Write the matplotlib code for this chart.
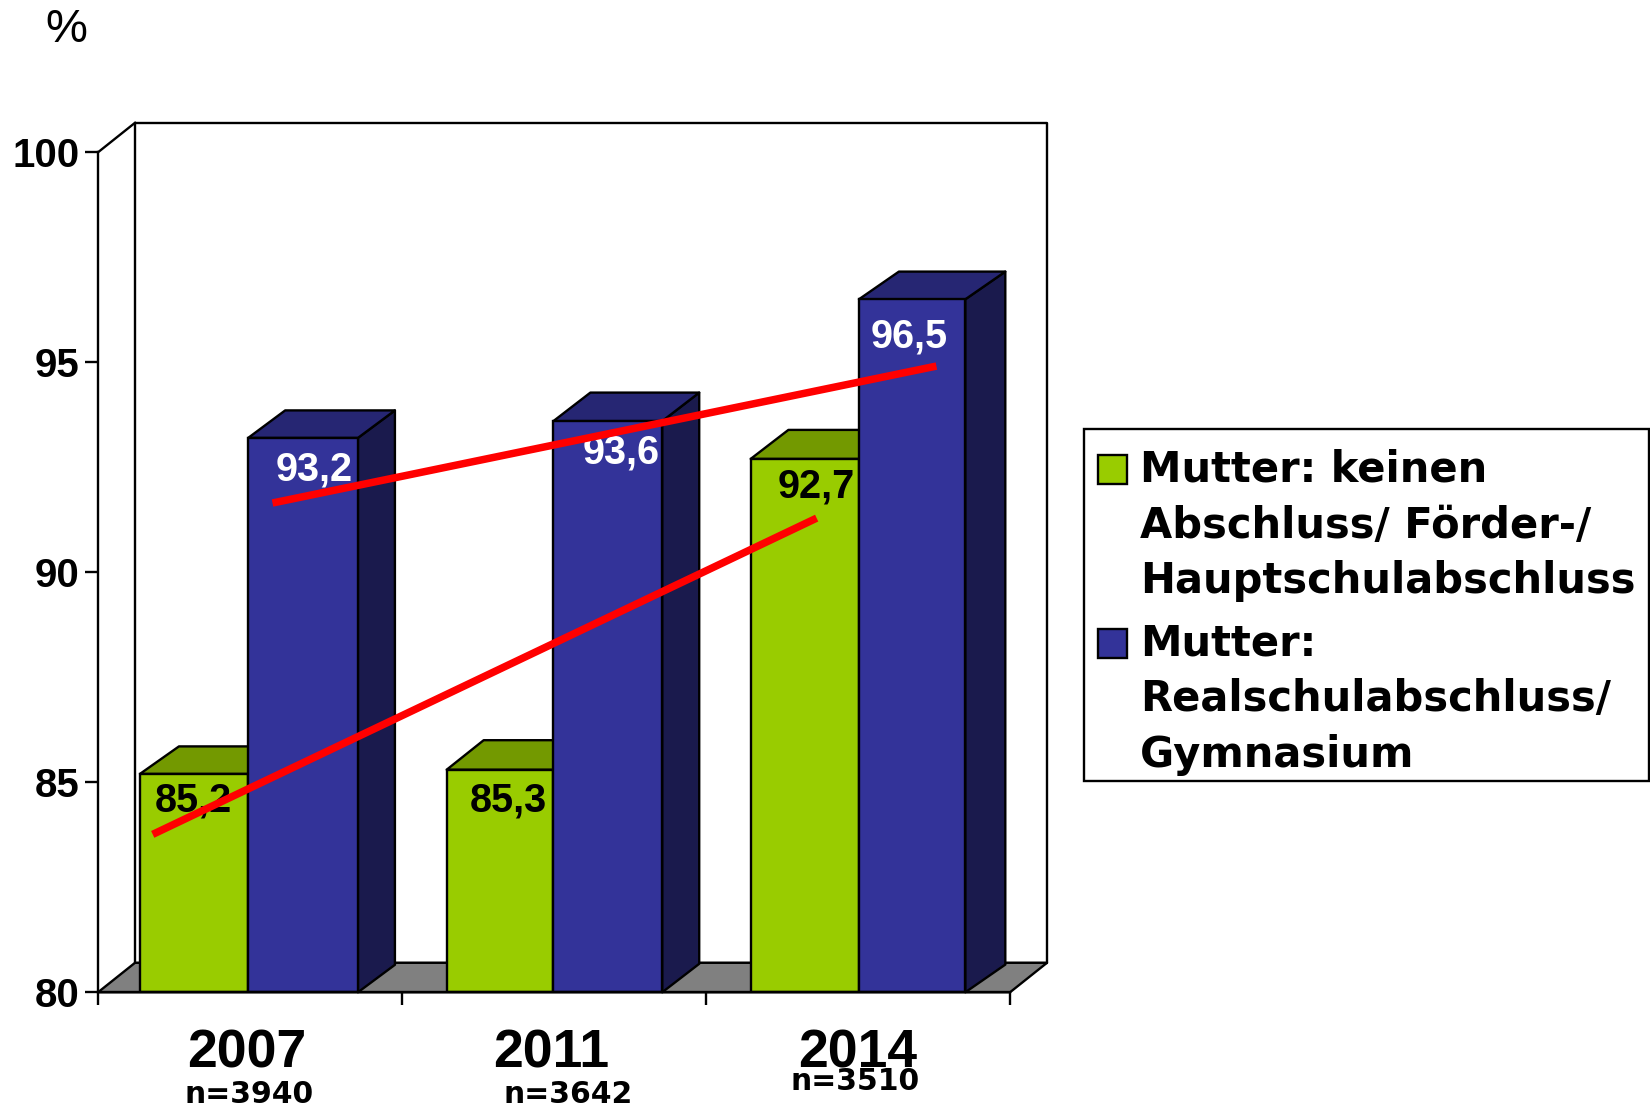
import matplotlib
matplotlib.use("Agg")
import matplotlib.pyplot as plt
from matplotlib.patches import Polygon, Patch, Rectangle
from matplotlib.legend_handler import HandlerPatch

years = ["2007", "2011", "2014"]
sample_sizes = ["n=3940", "n=3642", "n=3510"]
value_labels_green = ["85,2", "85,3", "92,7"]
value_labels_blue = ["93,2", "93,6", "96,5"]
green_values = [85.2, 85.3, 92.7]
blue_values = [93.2, 93.6, 96.5]
yticks = [80, 85, 90, 95, 100]

# red hand drawn lines
green_line_x = [0.18, 2.364]
green_line_y = [83.76, 91.29]
blue_line_x = [0.574, 2.758]
blue_line_y = [91.65, 94.91]

legend_green = "Mutter: keinen\nAbschluss/ Förder-/\nHauptschulabschluss"
legend_blue = "Mutter:\nRealschulabschluss/\nGymnasium"

GREEN = "#99CC00"
GREEN_TOP = "#739900"
BLUE = "#333399"
BLUE_TOP = "#262673"
BLUE_SIDE = "#1A1A4D"
GREY = "#808080"
LW = 1.7

plt.rcParams["font.family"] = ["Liberation Sans", "DejaVu Sans"]

W, H = 1650, 1109
fig = plt.figure(figsize=(W / 100, H / 100), dpi=100)
# plot box: x from 98 to 1010 px, y=80 at 992 px, y=100 at 152 px
PX_X = 304
PX_Y = 42
ax = fig.add_axes([98 / W, (H - 992.3) / H, 912 / W, 840 / H])
ax.set_xlim(0, 3)
ax.set_ylim(80, 100)

# depth of the fake 3d, in data units
DX = 37 / PX_X
DY = 29.5 / PX_Y
# the bars in the original are not quite regular
bar_left = [0.138, 1.147, 2.147]
bar_mid = [0.494, 1.498, 2.503]
bar_right = [0.855, 1.856, 2.853]
green_depth = [(39, 27.5), (37, 29.5), (37.7, 29)]
blue_depth = [(37, 27.5), (37, 28.5), (40, 27.7)]


def poly(pts, color, z):
    ax.add_patch(Polygon(pts, closed=True, facecolor=color, edgecolor="black",
                         linewidth=LW, zorder=z, clip_on=False, joinstyle="round"))


# walls and floor
poly([(0, 80), (DX, 80 + DY), (3 + DX, 80 + DY), (3, 80)], GREY, 1)
poly([(DX, 80 + DY), (DX, 100 + DY), (3 + DX, 100 + DY), (3 + DX, 80 + DY)], "white", 0.9)
ax.plot([0, DX], [100, 100 + DY], color="black", lw=LW, zorder=1, clip_on=False)

for i in range(3):
    g = green_values[i]
    b = blue_values[i]
    left, mid, right = bar_left[i], bar_mid[i], bar_right[i]
    gx = green_depth[i][0] / PX_X
    gy = green_depth[i][1] / PX_Y
    bx = blue_depth[i][0] / PX_X
    by = blue_depth[i][1] / PX_Y
    poly([(left, g), (left + gx, g + gy), (mid + gx, g + gy), (mid, g)], GREEN_TOP, 2)
    ax.bar(left, g - 80, mid - left, bottom=80, align="edge", color=GREEN, edgecolor="black",
           linewidth=LW, zorder=3)
    poly([(right, 80), (right + bx, 80 + by), (right + bx, b + by), (right, b)], BLUE_SIDE, 4)
    poly([(mid, b), (mid + bx, b + by), (right + bx, b + by), (right, b)], BLUE_TOP, 4)
    ax.bar(mid, b - 80, right - mid, bottom=80, align="edge", color=BLUE, edgecolor="black",
           linewidth=LW, zorder=5)

# value labels, nudged by hand like in the original
green_offsets = [(-1, -27), (8, -31), (11, -28)]
blue_offsets = [(11, -32), (13, -31), (-3, -37)]
for i in range(3):
    ax.annotate(value_labels_green[i], ((bar_left[i] + bar_mid[i]) / 2, green_values[i]), xytext=green_offsets[i],
                textcoords="offset pixels", ha="center", va="center", fontsize=28.5,
                fontweight="bold", color="black", zorder=6)
    ax.annotate(value_labels_blue[i], ((bar_mid[i] + bar_right[i]) / 2, blue_values[i]), xytext=blue_offsets[i],
                textcoords="offset pixels", ha="center", va="center", fontsize=28.5,
                fontweight="bold", color="white", zorder=6)

ax.plot(green_line_x, green_line_y, color="#FF0000", lw=5.4, zorder=7, solid_capstyle="butt")
ax.plot(blue_line_x, blue_line_y, color="#FF0000", lw=5.4, zorder=7, solid_capstyle="butt")

# axes
ax.patch.set_visible(False)
ax.spines["top"].set_visible(False)
ax.spines["right"].set_visible(False)
ax.spines["left"].set_linewidth(LW)
ax.spines["bottom"].set_linewidth(LW)
ax.spines["bottom"].set_zorder(8)
ax.set_yticks(yticks)
ax.set_yticklabels([str(v) for v in yticks], fontsize=29, fontweight="bold")
ax.set_xticks([0, 1, 2, 3])
ax.set_xticklabels([])
ax.tick_params(axis="both", length=9.4, width=LW, direction="out")
ax.tick_params(axis="y", pad=4)

year_offsets = [-3, -3, 0]
n_offsets = [-1, 14, -3]
n_drop = [-102, -102, -89]
for i in range(3):
    ax.annotate(years[i], (i + 0.5, 80), xytext=(year_offsets[i], -61), textcoords="offset pixels",
                ha="center", va="center", fontsize=38.5, fontweight="bold", annotation_clip=False)
    ax.annotate(sample_sizes[i], (i + 0.5, 80), xytext=(n_offsets[i], n_drop[i]), textcoords="offset pixels",
                ha="center", va="center", fontsize=21.5, fontweight="bold", family="DejaVu Sans",
                annotation_clip=False)

fig.text(66 / W, 1 - 30 / H, "%", fontsize=34, ha="center", va="center")


# squares sit next to the first line of each label, not the middle one
def top_square(legend, orig_handle, xdescent, ydescent, width, height, fontsize):
    return Rectangle((-xdescent, -ydescent + 41.7), width, height)


# frame is drawn apart because the padding in the original is not even
fig.add_artist(Rectangle((1084 / W, 1 - 781 / H), 565 / W, 352 / H, transform=fig.transFigure,
                         facecolor="white", edgecolor="black", linewidth=LW))

handles = [Patch(facecolor=GREEN, edgecolor="black", linewidth=LW),
           Patch(facecolor=BLUE, edgecolor="black", linewidth=LW)]
leg = fig.legend(handles, [legend_green, legend_blue], loc="upper left",
                 bbox_to_anchor=(1097.75 / W, 1 - 449 / H), bbox_transform=fig.transFigure,
                 borderaxespad=0, frameon=False,
                 prop={"family": "DejaVu Sans", "weight": "bold", "size": 30},
                 handlelength=0.7, handleheight=0.7, handletextpad=0.32,
                 labelspacing=0.5, borderpad=0,
                 handler_map={Patch: HandlerPatch(patch_func=top_square)})
for t in leg.get_texts():
    t.set_linespacing(1.41)

fig.savefig("out.png", dpi=100)
